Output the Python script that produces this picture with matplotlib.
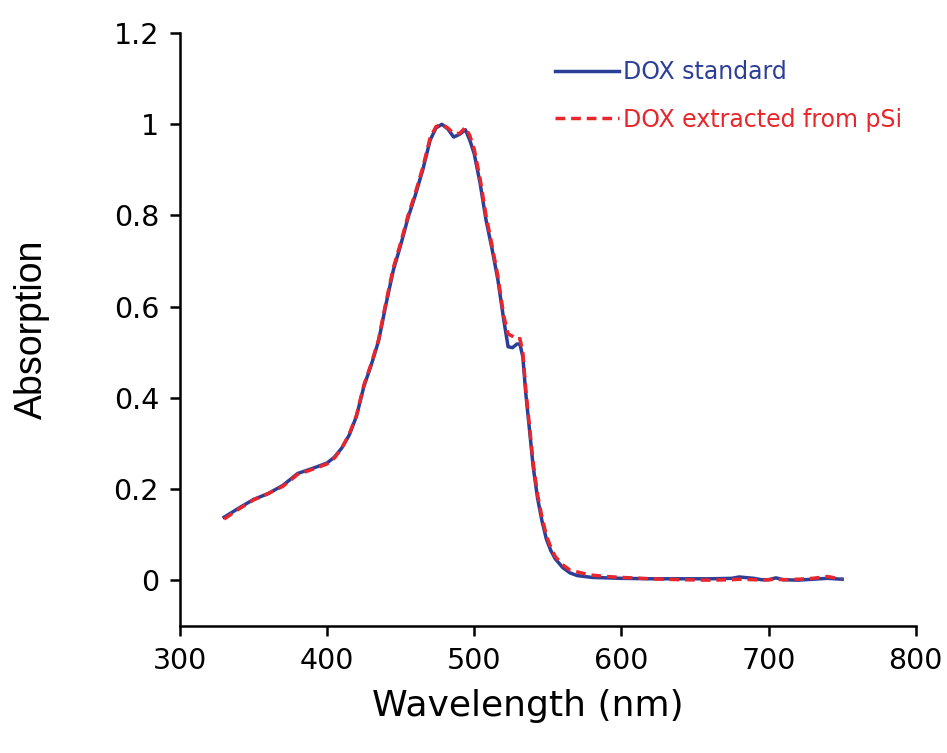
import matplotlib
matplotlib.use('Agg')
import matplotlib.pyplot as plt

# wavelengths (nm)
wavelength = [330, 340, 350, 360, 370, 380, 390, 400, 405, 410, 415, 420, 425, 430,
              435, 440, 445, 450, 455, 460, 465, 470, 474, 478, 482, 486, 490, 494,
              497, 500, 504, 508, 512, 516, 520, 523, 526, 529, 531, 533, 535, 538,
              540, 543, 546, 549, 552, 555, 560, 565, 570, 575, 580, 590, 600, 620,
              640, 660, 675, 680, 690, 695, 700, 705, 710, 720, 730, 740, 745, 750]

# DOX standard
dox_standard = [0.138, 0.158, 0.177, 0.190, 0.208, 0.234, 0.245, 0.257, 0.270, 0.290,
                0.318, 0.360, 0.425, 0.472, 0.525, 0.605, 0.680, 0.735, 0.795, 0.845,
                0.900, 0.965, 0.992, 1.000, 0.990, 0.972, 0.978, 0.988, 0.965, 0.935,
                0.870, 0.790, 0.728, 0.660, 0.572, 0.512, 0.510, 0.518, 0.518, 0.490,
                0.410, 0.315, 0.250, 0.180, 0.130, 0.090, 0.065, 0.047, 0.028, 0.016,
                0.010, 0.008, 0.006, 0.005, 0.004, 0.003, 0.003, 0.003, 0.004, 0.007,
                0.004, 0.001, 0.001, 0.005, 0.001, 0.000, 0.002, 0.004, 0.003, 0.002]

# DOX extracted from pSi
dox_extracted = [0.134, 0.156, 0.176, 0.190, 0.206, 0.232, 0.243, 0.255, 0.268, 0.290,
                 0.320, 0.362, 0.428, 0.475, 0.528, 0.610, 0.685, 0.740, 0.800, 0.850,
                 0.905, 0.970, 0.995, 1.000, 0.992, 0.980, 0.980, 0.993, 0.975, 0.945,
                 0.880, 0.800, 0.735, 0.668, 0.580, 0.540, 0.535, 0.528, 0.530, 0.500,
                 0.418, 0.322, 0.258, 0.188, 0.138, 0.098, 0.072, 0.052, 0.034, 0.022,
                 0.018, 0.014, 0.011, 0.008, 0.006, 0.003, 0.001, 0.000, 0.001, 0.002,
                 0.001, 0.000, 0.001, 0.002, 0.001, 0.002, 0.004, 0.008, 0.005, 0.003]

BLUE = '#2b3f99'
RED = '#e8262b'

plt.rcParams['font.family'] = ['DejaVu Sans']

fig = plt.figure(figsize=(9.47, 7.53), dpi=100)
ax = fig.add_axes([0.190, 0.169, 0.777, 0.787])

ax.plot(wavelength, dox_standard, color=BLUE, linewidth=2.5, label='DOX standard')
ax.plot(wavelength, dox_extracted, color=RED, linewidth=2.5, dashes=(2.8, 1.7),
        label='DOX extracted from pSi')

ax.set_xlim(300, 800)
ax.set_ylim(-0.1, 1.2)
ax.set_xticks([300, 400, 500, 600, 700, 800])
ax.set_yticks([0, 0.2, 0.4, 0.6, 0.8, 1.0, 1.2])
ax.set_yticklabels(['0', '0.2', '0.4', '0.6', '0.8', '1', '1.2'])

for side in ['top', 'right']:
    ax.spines[side].set_visible(False)
for side in ['left', 'bottom']:
    ax.spines[side].set_linewidth(1.8)
ax.tick_params(axis='both', direction='out', length=7, width=1.8, labelsize=20.5, pad=8)

ax.set_xlabel('Wavelength (nm)', fontsize=26)
ax.xaxis.set_label_coords((528 - 180) / 736, (626 - 689) / 593)
ax.set_ylabel('Absorption', fontsize=27, labelpad=46, family='Liberation Sans')

leg = ax.legend(loc='upper left', bbox_to_anchor=(555 / 947, 1 - 60 / 753),
                bbox_transform=fig.transFigure, frameon=False, fontsize=17,
                handlelength=2.7, handletextpad=0.2, labelspacing=1.0,
                borderpad=0, borderaxespad=0, labelcolor='linecolor')

fig.savefig('out.png', dpi=100)
